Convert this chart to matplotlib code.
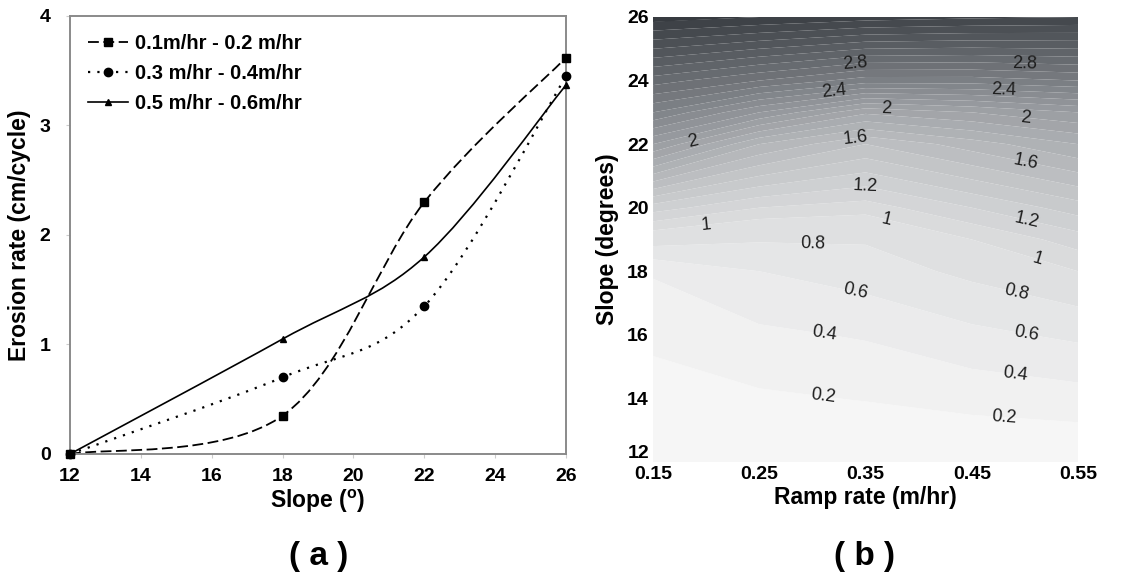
import numpy as np
import matplotlib
matplotlib.use("Agg")
import matplotlib.pyplot as plt
from matplotlib.path import Path
from matplotlib.patches import PathPatch
from matplotlib.lines import Line2D
from matplotlib.colors import LinearSegmentedColormap, BoundaryNorm

plt.rcParams['font.family'] = ['Liberation Sans', 'DejaVu Sans']

# (a) erosion rate vs slope for three ramp-rate ranges
slopes = [12, 18, 22, 26]
rate_low = [0.0, 0.35, 2.3, 3.62]     # 0.1 - 0.2 m/hr
rate_mid = [0.0, 0.70, 1.35, 3.45]    # 0.3 - 0.4 m/hr
rate_high = [0.0, 1.05, 1.80, 3.37]   # 0.5 - 0.6 m/hr
series_labels = ["0.1m/hr - 0.2 m/hr", "0.3 m/hr - 0.4m/hr", "0.5 m/hr - 0.6m/hr"]

# (b) erosion rate surface over ramp rate x slope
ramp_grid = [0.15, 0.25, 0.35, 0.45, 0.55]
slope_grid = [12, 14, 16, 18, 19, 20, 22, 23, 24, 26]
erosion_grid = [
    # 0.15  0.25  0.35  0.45  0.55
    [0.00, 0.00, 0.00, 0.00, 0.00],   # 12
    [0.10, 0.17, 0.21, 0.27, 0.32],   # 14
    [0.25, 0.36, 0.42, 0.55, 0.64],   # 16
    [0.42, 0.60, 0.70, 0.85, 1.00],   # 18
    [0.90, 0.82, 0.82, 1.00, 1.15],   # 19
    [1.25, 1.10, 1.05, 1.20, 1.35],   # 20
    [2.10, 1.70, 1.50, 1.65, 1.80],   # 22
    [2.50, 2.20, 1.92, 2.00, 2.10],   # 23
    [2.85, 2.70, 2.55, 2.55, 2.60],   # 24
    [3.55, 3.50, 3.45, 3.42, 3.40],   # 26
]
label_levels = [0.2, 0.4, 0.6, 0.8, 1.0, 1.2, 1.6, 2.0, 2.4, 2.8]
label_spots = [
    (0.34, 24.6), (0.50, 24.55), (0.32, 23.75), (0.48, 23.65),
    (0.19, 21.7), (0.37, 23.15), (0.50, 22.65), (0.34, 22.35), (0.50, 21.35),
    (0.35, 20.85), (0.50, 19.3), (0.20, 19.35), (0.37, 19.7), (0.51, 18.1),
    (0.30, 18.75), (0.49, 17.05), (0.34, 17.3), (0.50, 15.8),
    (0.31, 15.8), (0.49, 14.55), (0.31, 13.9), (0.48, 13.25),
]


def smooth_path(xs, ys):
    """Bezier path through the points, Catmull-Rom style control points."""
    pts = np.column_stack([xs, ys]).astype(float)
    n = len(pts)
    verts = [pts[0]]
    codes = [Path.MOVETO]
    for i in range(n - 1):
        prev_p = pts[i - 1] if i > 0 else pts[i]
        next_p = pts[i + 2] if i + 2 < n else pts[i + 1]
        c1 = pts[i] + (pts[i + 1] - prev_p) / 6.0
        c2 = pts[i + 1] - (next_p - pts[i]) / 6.0
        verts += [c1, c2, pts[i + 1]]
        codes += [Path.CURVE4] * 3
    return Path(verts, codes)


fig = plt.figure(figsize=(11.26, 5.86), dpi=100)
fig.patch.set_facecolor("white")

# ---------------- (a) ----------------
ax1 = fig.add_axes([0.0622, 0.2253, 0.4405, 0.7474])
styles = [
    (rate_low, "s", (0, (6, 2.5)), 1.3, 6),
    (rate_mid, "o", (0, (1, 3.2)), 1.6, 6),
    (rate_high, "^", "-", 1.2, 5),
]
handles = []
for (vals, mk, ls, lw, ms), lab in zip(styles, series_labels):
    ax1.add_patch(PathPatch(smooth_path(slopes, vals), fill=False,
                            edgecolor="black", linestyle=ls, linewidth=lw))
    ax1.plot(slopes, vals, linestyle="none", marker=mk, color="black",
             markersize=ms, clip_on=False, zorder=3)
    handles.append(Line2D([], [], color="black", linestyle=ls, linewidth=lw,
                          marker=mk, markersize=ms))

ax1.set_xlim(12, 26)
ax1.set_ylim(0, 4)
ax1.set_xticks(range(12, 27, 2))
ax1.set_yticks(range(0, 5))
for sp in ax1.spines.values():
    sp.set_color("#8a8a8a")
    sp.set_linewidth(1.4)
ax1.tick_params(axis="x", length=3, color="#cccccc", labelsize=14, pad=7)
ax1.tick_params(axis="y", length=3, color="#cccccc", labelsize=14, pad=11)
for t in ax1.get_xticklabels() + ax1.get_yticklabels():
    t.set_fontweight("bold")
ax1.set_xlabel("Slope ($^{\\mathregular{o}}$)", fontsize=16.5, fontweight="bold", labelpad=2)
ax1.set_ylabel("Erosion rate (cm/cycle)", fontsize=16.5, fontweight="bold", labelpad=6)
leg = ax1.legend(handles, series_labels, loc="upper left", frameon=False,
                 prop={"weight": "bold", "size": 14.5}, handlelength=2.0,
                 handletextpad=0.35, labelspacing=0.55, borderaxespad=0.5,
                 bbox_to_anchor=(0.0, 1.0))
fig.text(0.283, 0.05, "( a )", ha="center", va="center", fontsize=24, fontweight="bold")

# ---------------- (b) ----------------
ax2 = fig.add_axes([0.58, 0.2116, 0.3774, 0.7594])
X, Y = np.meshgrid(ramp_grid, slope_grid)
Z = np.array(erosion_grid)
fill_levels = [0, 0.2, 0.4, 0.6, 0.8, 1.0] + [round(1.1 + 0.1 * k, 1) for k in range(26)]
grey_map = LinearSegmentedColormap.from_list(
    "erosion_greys",
    [(0.0, "#f6f6f6"), (0.28, "#c6c8ca"), (0.56, "#919499"),
     (0.78, "#64686d"), (1.0, "#373b40")])
norm = BoundaryNorm(fill_levels, grey_map.N)
ax2.contourf(X, Y, Z, levels=fill_levels, cmap=grey_map, norm=norm, antialiased=True)
cs = ax2.contour(X, Y, Z, levels=label_levels, linewidths=0, colors="none")
lbls = ax2.clabel(cs, levels=label_levels, inline=False, fontsize=13,
                  colors="#1e1e1e", fmt=lambda v: f"{v:g}", manual=label_spots)

ax2.set_xlim(0.15, 0.55)
ax2.set_ylim(12, 26)
ax2.set_xticks([0.15, 0.25, 0.35, 0.45, 0.55])
ax2.set_yticks(range(12, 27, 2))
for sp in ax2.spines.values():
    sp.set_visible(False)
ax2.tick_params(length=0, labelsize=14, pad=3)
for t in ax2.get_xticklabels() + ax2.get_yticklabels():
    t.set_fontweight("bold")
ax2.get_yticklabels()[0].set_verticalalignment("bottom")
ax2.set_xlabel("Ramp rate (m/hr)", fontsize=16.5, fontweight="bold", labelpad=2)
ax2.set_ylabel("Slope (degrees)", fontsize=16.5, fontweight="bold", labelpad=6)
fig.text(0.768, 0.05, "( b )", ha="center", va="center", fontsize=24, fontweight="bold")

fig.savefig("out.png", dpi=100, facecolor="white")
